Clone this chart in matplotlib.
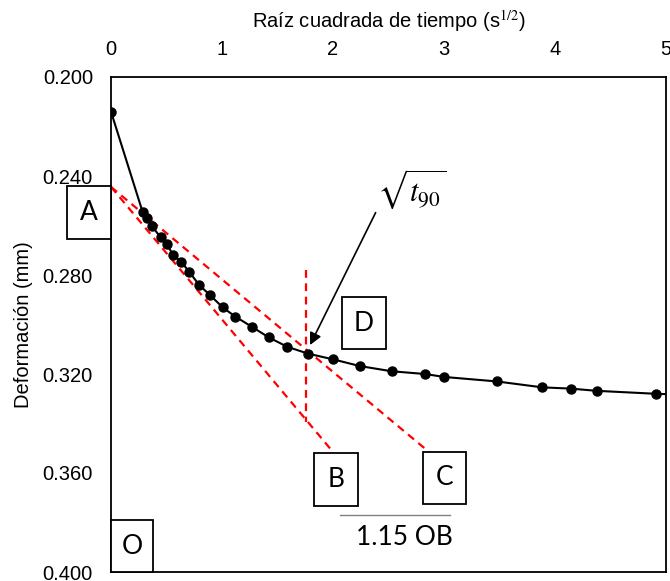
import matplotlib
matplotlib.use("Agg")
import matplotlib.pyplot as plt
from matplotlib.patches import Rectangle

# Square root of time (s^1/2) and settlement readings (mm)
sqrt_t = [0.0, 0.286, 0.322, 0.367, 0.448, 0.502, 0.561, 0.631, 0.705, 0.793,
          0.892, 1.006, 1.120, 1.268, 1.421, 1.588, 1.777, 2.003, 2.243, 2.529,
          2.829, 3.003, 3.475, 3.886, 4.141, 4.376, 4.910, 5.250]
deform = [0.2140, 0.2547, 0.2571, 0.2602, 0.2648, 0.2675, 0.2720, 0.2746, 0.2787, 0.2840,
          0.2881, 0.2931, 0.2968, 0.3009, 0.3052, 0.3090, 0.3118, 0.3141, 0.3168, 0.3189,
          0.3200, 0.3212, 0.3230, 0.3254, 0.3259, 0.3268, 0.3280, 0.3285]

# Construction lines (Taylor method)
x_ob = [0.0, 2.00]
y_ob = [0.2444, 0.3515]
x_oc = [0.0, 2.865]
y_oc = [0.2444, 0.3515]
x_t90 = [1.757, 1.757]
y_t90 = [0.278, 0.3394]

x_ticks = [0, 1, 2, 3, 4, 5]
y_ticks = [0.200, 0.240, 0.280, 0.320, 0.360, 0.400]

plt.rcParams['font.family'] = ['Liberation Sans', 'DejaVu Sans']
plt.rcParams['mathtext.fontset'] = 'stix'

fig = plt.figure(figsize=(6.7, 5.81), dpi=100)
ax = fig.add_axes([111/670, 9/581, 555/670, 495/581])

ax.plot(sqrt_t, deform, color='black', lw=1.5, marker='o', ms=6.5, zorder=3)

red_kw = dict(color='#FF0000', lw=1.6, dashes=(3.5, 2.5), zorder=2)
ax.plot(x_ob, y_ob, **red_kw)
ax.plot(x_oc, y_oc, **red_kw)
ax.plot(x_t90, y_t90, **red_kw)

ax.set_xlim(0, 5)
ax.set_ylim(0.4, 0.2)
ax.xaxis.tick_top()
ax.xaxis.set_label_position('top')
ax.set_xticks(x_ticks)
ax.set_yticks(y_ticks)
ax.set_yticklabels([f"{v:.3f}" for v in y_ticks])
ax.tick_params(axis='x', length=0, pad=13, labelsize=14.5)
ax.tick_params(axis='y', length=0, pad=13, labelsize=14.5)
ax.set_xlabel('Raíz cuadrada de tiempo (s$^{1/2}$)', fontsize=14.5, labelpad=9)
ax.set_ylabel('Deformación (mm)', fontsize=14.5, labelpad=7)
for s in ax.spines.values():
    s.set_linewidth(1.3)
    s.set_color('black')

# Lettered boxes
box_font = ['Lato', 'DejaVu Sans']
boxes = {
    'A': (-0.396, 0.2440, 0.396, 0.0215),
    'O': (0.0, 0.3790, 0.378, 0.0210),
    'B': (1.829, 0.3519, 0.396, 0.0214),
    'C': (2.811, 0.3515, 0.387, 0.0210),
    'D': (2.081, 0.2889, 0.396, 0.0210),
}
for letter, (bx, by, bw, bh) in boxes.items():
    ax.add_patch(Rectangle((bx, by), bw, bh, fill=True, facecolor='white',
                           edgecolor='black', lw=1.3, clip_on=False, zorder=4))
    ax.text(bx + bw / 2, by + bh / 2, letter, ha='center', va='center',
            fontsize=19, family=box_font, zorder=5, clip_on=False)

# 1.15 OB dimension
ax.plot([2.063, 3.054], [0.377, 0.377], color='#808080', lw=1.0, clip_on=False)
ax.text(2.64, 0.3862, '1.15 OB', ha='center', va='center', fontsize=19,
        family=box_font, clip_on=False)

# sqrt(t90) callout
ax.text(2.71, 0.2452, r'$\sqrt{t_{90}}$', fontsize=22, ha='center', va='center')
ax.annotate('', xy=(1.793, 0.3083), xytext=(2.384, 0.2548),
            arrowprops=dict(arrowstyle='-|>', color='black', lw=1.2,
                            mutation_scale=18, shrinkA=0, shrinkB=0))

fig.savefig('out.png', dpi=100)
